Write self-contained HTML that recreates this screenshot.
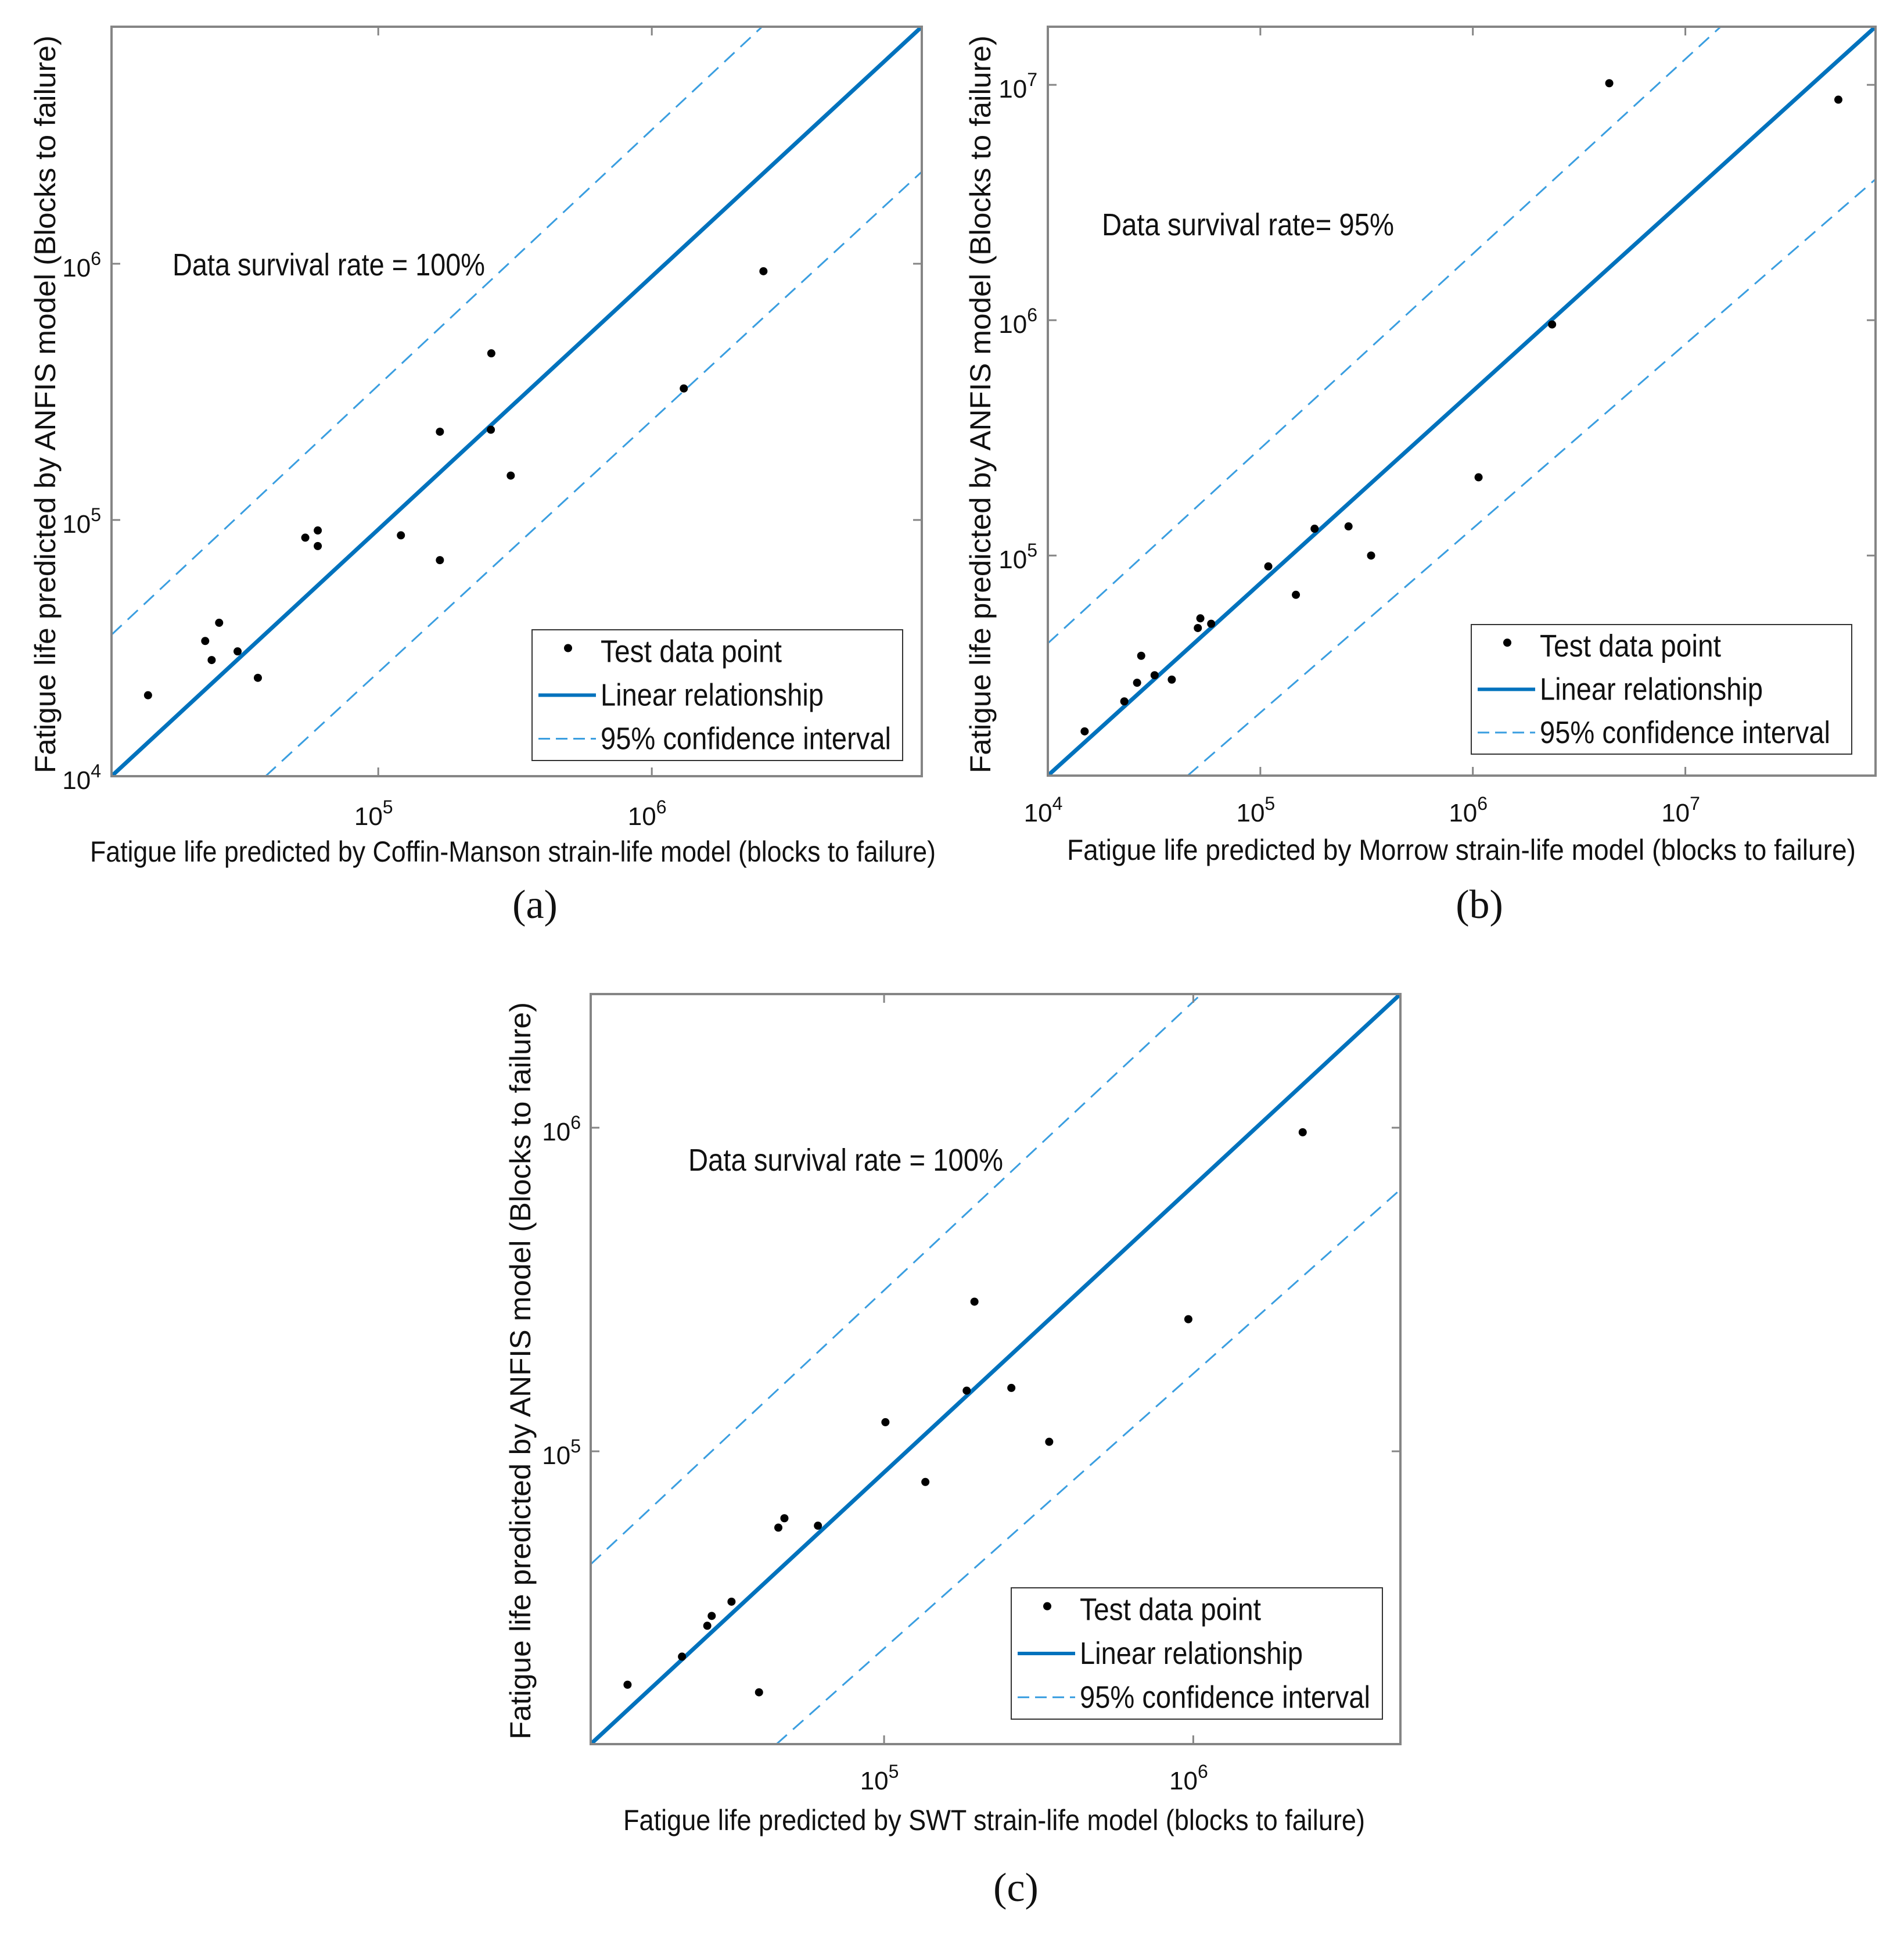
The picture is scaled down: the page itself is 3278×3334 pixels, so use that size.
<!DOCTYPE html>
<html><head><meta charset="utf-8"><style>
html,body{margin:0;padding:0;background:#fff}
svg{display:block}
text{font-family:"Liberation Sans",Arial,sans-serif;fill:#111}
</style></head><body>
<svg id="fig" width="3278" height="3334" viewBox="0 0 3278 3334" xmlns="http://www.w3.org/2000/svg">
<rect width="3278" height="3334" fill="#fff"/>
</svg>
<script>
// ---------- data (values in blocks to failure) ----------
const aX = [14400,23300,24600,26200,30600,36300,54100,60100,60100,121000,168000,168000,258000,259000,305000,1309000,2559000];
const aY = [20700,33700,28400,39700,30700,24200,85300,91000,79100,87100,221000,69700,225000,447000,149000,326000,935000];
const bX = [14900,22900,26300,27500,31800,38300,50800,52200,58700,109000,147000,180000,260000,332000,1064000,2360000,4385000,52480000];
const bY = [17900,24000,28800,37500,31000,29700,49200,54100,51300,89900,68100,130000,133000,100000,215000,959000,10160000,8650000];
const cX = [14800,22200,26800,27700,32100,39400,45500,47600,61100,101000,136000,185000,196000,258000,342000,964000,2259000];
const cY = [19000,23200,28900,31000,34300,18000,58100,62100,58900,123000,80400,154000,290000,157000,107000,256000,968000];
// axis domains [min,max]
const aXDomain = [10590, 9705000];
const aYDomain = [10000, 8414000];
const bXDomain = [10000, 78520000];
const bYDomain = [11610, 17660000];
const cXDomain = [11250, 4677000];
const cYDomain = [12450, 2588000];
// reference lines: [x1,y1,x2,y2]
const aFit = [10590,10000,9705000,8414000];
const aUpper = [10590,35650,2529000,8414000];
const aLower = [38730,10000,9705000,2286000];
const bFit = [10000,11610,78520000,17660000];
const bUpper = [10000,42360,14660000,17660000];
const bLower = [45500,11610,78520000,3972000];
const cFit = [11250,12450,4677000,2588000];
const cUpper = [11250,44770,1062000,2588000];
const cLower = [44870,12450,4677000,644200];
// ticks
const aXTicks = [1e5,1e6];
const aYTicks = [1e4,1e5,1e6];
const bXTicks = [1e4,1e5,1e6,1e7];
const bYTicks = [1e5,1e6,1e7];
const cXTicks = [1e5,1e6];
const cYTicks = [1e5,1e6];
const aXTickLabels = ["5","6"];
const aYTickLabels = ["4","5","6"];
const bXTickLabels = ["4","5","6","7"];
const bYTickLabels = ["5","6","7"];
const cXTickLabels = ["5","6"];
const cYTickLabels = ["5","6"];
const legendLabels = ["Test data point","Linear relationship","95% confidence interval"];
const legendWidths = [312,384,500];

const NS = "http://www.w3.org/2000/svg";
const svg = document.getElementById('fig');
function mk(tag, attrs, parent){
  const e = document.createElementNS(NS, tag);
  for (const k in attrs) e.setAttribute(k, attrs[k]);
  (parent||svg).appendChild(e);
  return e;
}
const BLUE = "#0072bd", LBLUE = "#3a9ee0", GRAY = "#858585";

function panel(id, L, xs, ys, xd, yd, fit, up, lo, xt, xtl, yt, ytl){
  const g = mk('g', {});
  
  
  const lg = v => Math.log10(v);
  const sx = v => L.x0 + (lg(v)-lg(xd[0]))/(lg(xd[1])-lg(xd[0]))*(L.x1-L.x0);
  const sy = v => L.y1 - (lg(v)-lg(yd[0]))/(lg(yd[1])-lg(yd[0]))*(L.y1-L.y0);
  const cp = mk('clipPath', {id:'clip'+id}, g);
  mk('rect', {x:L.x0, y:L.y0, width:L.x1-L.x0, height:L.y1-L.y0}, cp);
  const pg = mk('g', {'clip-path':'url(#clip'+id+')'}, g);
  function line(arr, name, dashed){
    const l = mk('line', {x1:sx(arr[0]), y1:sy(arr[1]), x2:sx(arr[2]), y2:sy(arr[3]),
      stroke: dashed?LBLUE:BLUE, 'stroke-width': dashed?3:7, 'stroke-dasharray': dashed?'24 14':'none'}, pg);
    
    
  }
  line(up, 'upper-confidence-line', true);
  line(lo, 'lower-confidence-line', true);
  line(fit, 'linear-relationship-line', false);
  for (let i=0;i<xs.length;i++){
    const c = mk('circle', {cx:sx(xs[i]), cy:sy(ys[i]), r:7, fill:'#000'}, pg);
    
    
  }
  const box = mk('rect', {x:L.x0, y:L.y0, width:L.x1-L.x0, height:L.y1-L.y0, fill:'none', stroke:GRAY, 'stroke-width':4}, g);
  
  
  xt.forEach((t,i)=>{
    const x = sx(t);
    mk('line', {x1:x,x2:x,y1:L.y1,y2:L.y1-15,stroke:GRAY,'stroke-width':3}, g);
    mk('line', {x1:x,x2:x,y1:L.y0,y2:L.y0+15,stroke:GRAY,'stroke-width':3}, g);
    const tx = mk('text', {x:x-8, y:L.xlY, 'font-size':44, 'text-anchor':'middle'}, g);
    
    
    tx.appendChild(document.createTextNode('10'));
    const s = mk('tspan', {dy:-20, 'font-size':32}, tx); s.textContent = xtl[i];
  });
  yt.forEach((t,i)=>{
    const y = sy(t);
    mk('line', {x1:L.x0,x2:L.x0+15,y1:y,y2:y,stroke:GRAY,'stroke-width':3}, g);
    mk('line', {x1:L.x1,x2:L.x1-15,y1:y,y2:y,stroke:GRAY,'stroke-width':3}, g);
    const tx = mk('text', {x:L.ylX, y:y+22, 'font-size':44, 'text-anchor':'end'}, g);
    
    
    tx.appendChild(document.createTextNode('10'));
    const s = mk('tspan', {dy:-20, 'font-size':32}, tx); s.textContent = ytl[i];
  });
  const an = mk('text', {x:L.an[0], y:L.an[1]+19, 'font-size':54, textLength:L.an[2], lengthAdjust:'spacingAndGlyphs'}, g);
  
  
  an.textContent = L.anText;
  const xtitle = mk('text', {x:L.xt[0], y:L.xt[1], 'font-size':50, textLength:L.xt[2], lengthAdjust:'spacingAndGlyphs'}, g);
  
  
  xtitle.textContent = L.xtText;
  const ytitle = mk('text', {x:0, y:0, 'font-size':50, textLength:L.yt[3], lengthAdjust:'spacingAndGlyphs',
    transform:'translate('+L.yt[0]+','+L.yt[1]+') rotate(-90)'}, g);
  
  
  ytitle.textContent = "Fatigue life predicted by ANFIS model (Blocks to failure)";
  const lgd = mk('g', {}, g);
  
  
  const lb = L.lg;
  mk('rect', {x:lb[0], y:lb[1], width:lb[2]-lb[0], height:lb[3]-lb[1], fill:'#fff', stroke:'#333', 'stroke-width':2}, lgd);
  const rowH = (lb[3]-lb[1])/3;
  legendLabels.forEach((lab,i)=>{
    const cy = lb[1] + rowH*(i+0.5);
    if (i===0) mk('circle', {cx:lb[0]+62, cy:cy-6, r:7, fill:'#000'}, lgd);
    if (i===1) mk('line', {x1:lb[0]+11, x2:lb[0]+110, y1:cy, y2:cy, stroke:BLUE, 'stroke-width':6}, lgd);
    if (i===2) mk('line', {x1:lb[0]+11, x2:lb[0]+110, y1:cy, y2:cy, stroke:LBLUE, 'stroke-width':3, 'stroke-dasharray':'20 10'}, lgd);
    const t = mk('text', {x:lb[0]+118, y:cy+18, 'font-size':54, textLength:legendWidths[i], lengthAdjust:'spacingAndGlyphs'}, lgd);
    
    
    t.textContent = lab;
  });
  const cap = mk('text', {x:L.cap[0], y:L.cap[1], 'font-size':70, 'text-anchor':'middle', style:'font-family:"Liberation Serif",serif'}, g);
  
  
  cap.textContent = '(' + id + ')';
}

panel('a', {x0:192,x1:1587,y0:46,y1:1336, xlY:1420, ylX:174,
  an:[297,455,538], anText:"Data survival rate = 100%",
  xt:[155,1483,1456], xtText:"Fatigue life predicted by Coffin-Manson strain-life model (blocks to failure)",
  yt:[95,1331,0,1270], lg:[916,1084,1554,1309], cap:[921,1580]},
  aX,aY,aXDomain,aYDomain,aFit,aUpper,aLower,aXTicks,aXTickLabels,aYTicks,aYTickLabels);

panel('b', {x0:1804,x1:3229,y0:46,y1:1335, xlY:1414, ylX:1786,
  an:[1897,386,503], anText:"Data survival rate= 95%",
  xt:[1837,1480,1358], xtText:"Fatigue life predicted by Morrow strain-life model (blocks to failure)",
  yt:[1705,1331,0,1270], lg:[2533,1075,3188,1298], cap:[2547,1580]},
  bX,bY,bXDomain,bYDomain,bFit,bUpper,bLower,bXTicks,bXTickLabels,bYTicks,bYTickLabels);

panel('c', {x0:1017,x1:2411,y0:1711,y1:3002, xlY:3080, ylX:1000,
  an:[1185,1996,542], anText:"Data survival rate = 100%",
  xt:[1073,3150,1277], xtText:"Fatigue life predicted by SWT strain-life model (blocks to failure)",
  yt:[913,2994,0,1269], lg:[1741,2733,2380,2959], cap:[1749,3272]},
  cX,cY,cXDomain,cYDomain,cFit,cUpper,cLower,cXTicks,cXTickLabels,cYTicks,cYTickLabels);
</script>
</body></html>
